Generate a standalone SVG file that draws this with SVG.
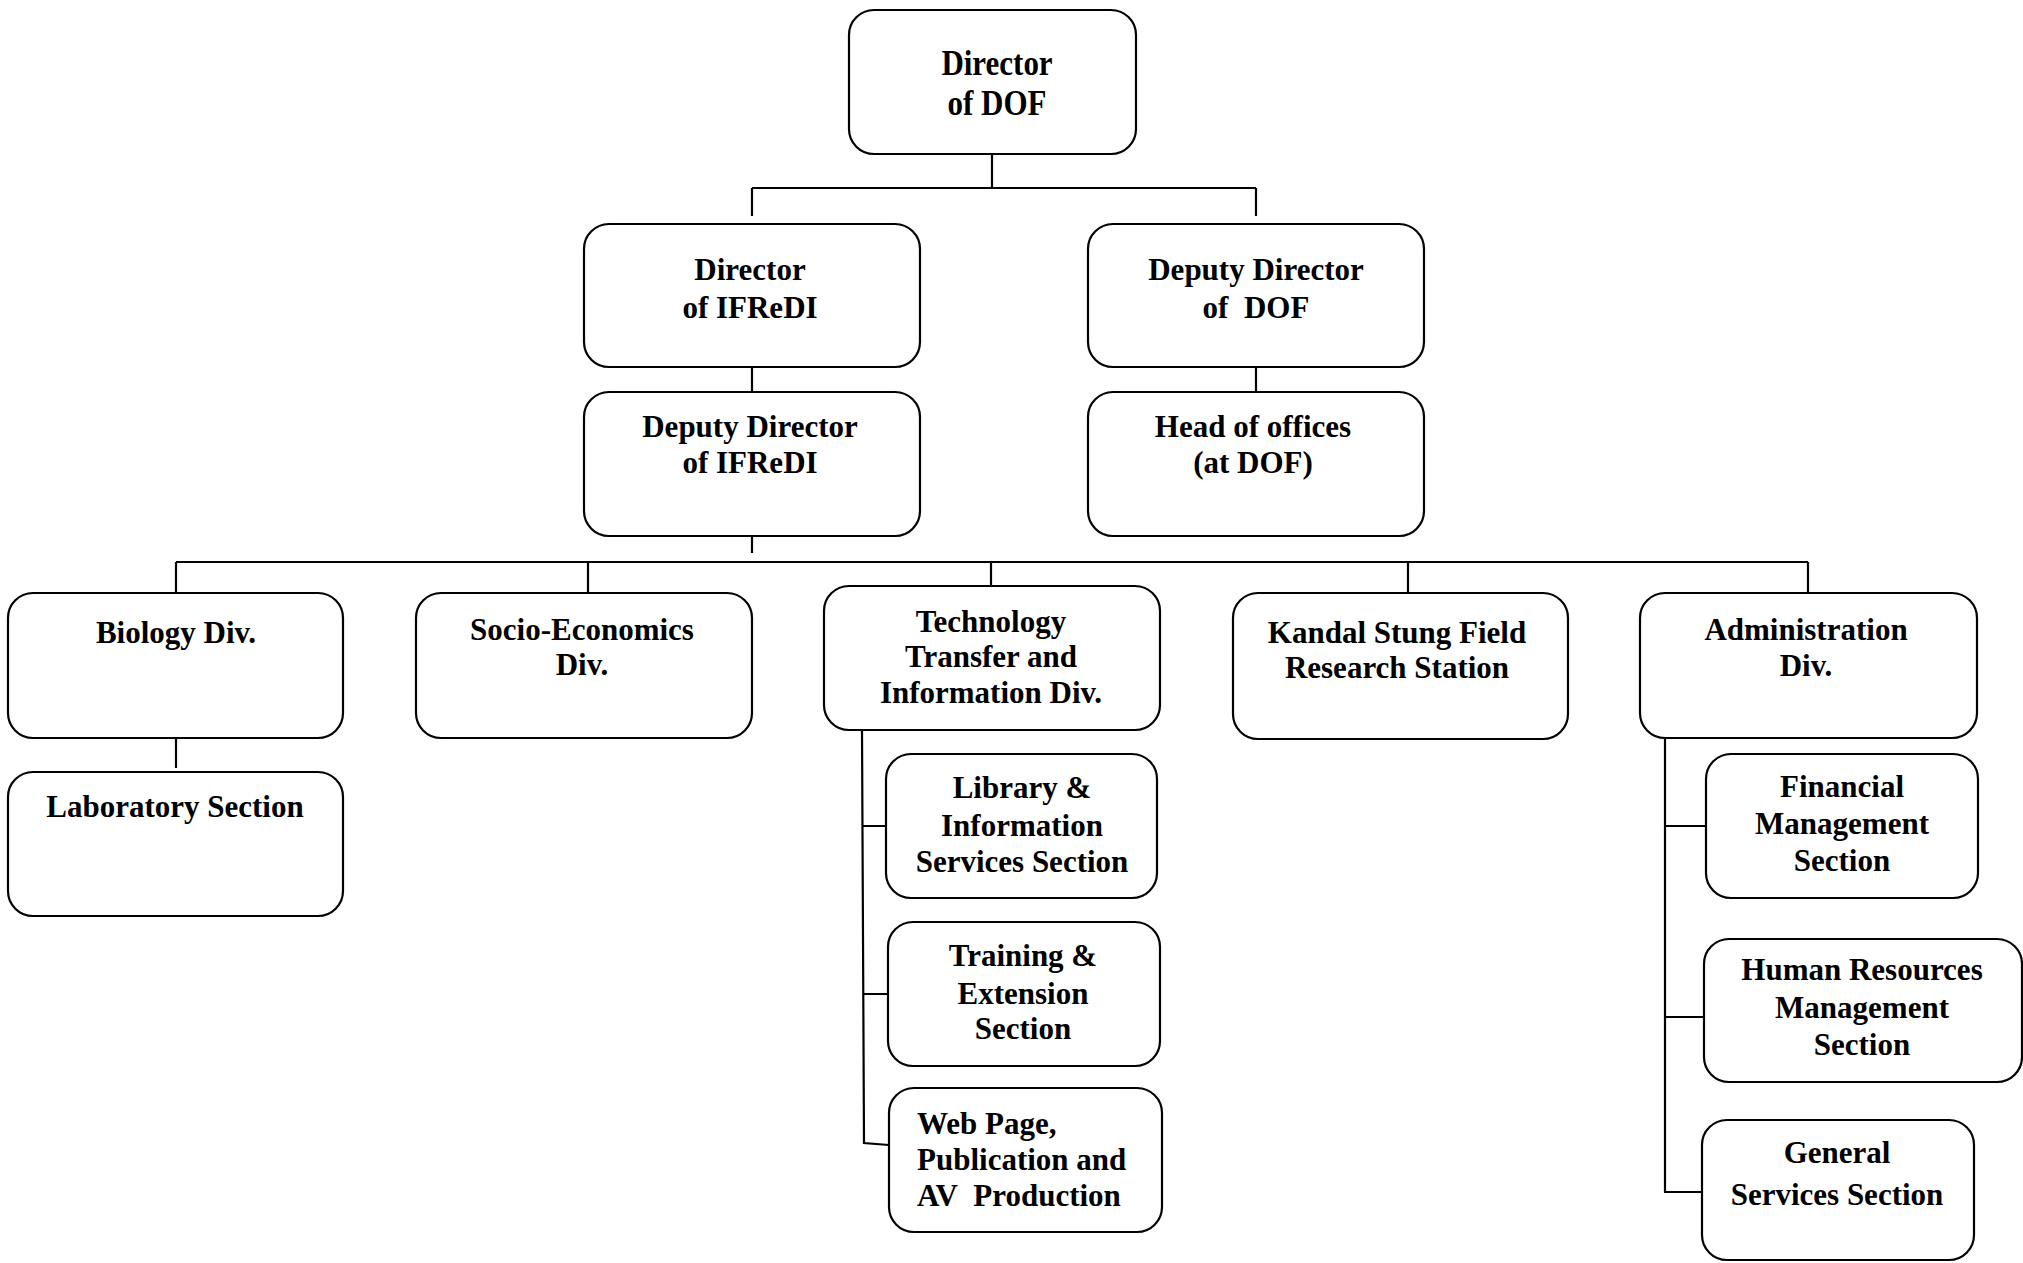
<svg xmlns="http://www.w3.org/2000/svg" width="2023" height="1263" viewBox="0 0 2023 1263">
<style>
.box{fill:#fff;stroke:#000;stroke-width:2.2}
.ln{stroke:#000;stroke-width:2.2;fill:none}
text{font-family:"Liberation Serif","Times New Roman",serif;font-weight:bold;font-size:31px;fill:#000;text-anchor:middle}
.l{text-anchor:start}
</style>
<rect width="2023" height="1263" fill="#fff"/>
<g id="connectors">
<path class="ln" d="M992 154V188M752 188H1256M752 188V216M1256 188V216"/>
<path class="ln" d="M752 363V394M1256 363V394M752 537V553"/>
<path class="ln" d="M176 562H1808M176 562V593M588 562V593M991 562V586M1408 562V593M1808 562V593"/>
<path class="ln" d="M176 738V768"/>
<path class="ln" d="M862 730L864 1143L889 1145M862 826H886M863 994H888"/>
<path class="ln" d="M1665 738V1192M1665 826H1708M1664 1017H1704M1664 1192H1704"/>
</g>
<g id="n-director-dof"><rect class="box" x="849" y="10" width="287" height="144" rx="25"/>
<text transform="translate(997,75) scale(1,1.17)">Director</text><text transform="translate(997,115) scale(1,1.17)">of DOF</text></g>
<g id="n-director-ifredi"><rect class="box" x="584" y="224" width="336" height="143" rx="25"/>
<text x="750" y="280">Director</text><text x="750" y="318">of IFReDI</text></g>
<g id="n-deputy-dof"><rect class="box" x="1088" y="224" width="336" height="143" rx="25"/>
<text x="1256" y="280">Deputy Director</text><text x="1256" y="318">of&#160; DOF</text></g>
<g id="n-deputy-ifredi"><rect class="box" x="584" y="392" width="336" height="144" rx="25"/>
<text x="750" y="437">Deputy Director</text><text x="750" y="473">of IFReDI</text></g>
<g id="n-head-offices"><rect class="box" x="1088" y="392" width="336" height="144" rx="25"/>
<text x="1253" y="437">Head of offices</text><text x="1253" y="473">(at DOF)</text></g>
<g id="n-biology"><rect class="box" x="8" y="593" width="335" height="145" rx="25"/>
<text x="176" y="643">Biology Div.</text></g>
<g id="n-lab"><rect class="box" x="8" y="772" width="335" height="144" rx="25"/>
<text x="175" y="817">Laboratory Section</text></g>
<g id="n-socio"><rect class="box" x="416" y="593" width="336" height="145" rx="25"/>
<text x="582" y="640">Socio-Economics</text><text x="582" y="675">Div.</text></g>
<g id="n-tech"><rect class="box" x="824" y="586" width="336" height="144" rx="25"/>
<text x="991" y="632">Technology</text><text x="991" y="667">Transfer and</text><text x="991" y="703">Information Div.</text></g>
<g id="n-kandal"><rect class="box" x="1233" y="593" width="335" height="146" rx="25"/>
<text x="1397" y="643">Kandal Stung Field</text><text x="1397" y="678">Research Station</text></g>
<g id="n-admin"><rect class="box" x="1640" y="593" width="337" height="145" rx="25"/>
<text x="1806" y="640">Administration</text><text x="1806" y="676">Div.</text></g>
<g id="n-library"><rect class="box" x="886" y="754" width="271" height="144" rx="25"/>
<text x="1022" y="798">Library &amp;</text><text x="1022" y="836">Information</text><text x="1022" y="872">Services Section</text></g>
<g id="n-training"><rect class="box" x="888" y="922" width="272" height="144" rx="25"/>
<text x="1023" y="966">Training &amp;</text><text x="1023" y="1004">Extension</text><text x="1023" y="1039">Section</text></g>
<g id="n-web"><rect class="box" x="889" y="1088" width="273" height="144" rx="25"/>
<text class="l" x="917" y="1134">Web Page,</text><text class="l" x="917" y="1170">Publication and</text><text class="l" x="917" y="1206">AV&#160; Production</text></g>
<g id="n-financial"><rect class="box" x="1706" y="754" width="272" height="144" rx="25"/>
<text x="1842" y="797">Financial</text><text x="1842" y="834">Management</text><text x="1842" y="871">Section</text></g>
<g id="n-hr"><rect class="box" x="1704" y="939" width="318" height="143" rx="25"/>
<text x="1862" y="980">Human Resources</text><text x="1862" y="1018">Management</text><text x="1862" y="1055">Section</text></g>
<g id="n-general"><rect class="box" x="1702" y="1120" width="272" height="140" rx="25"/>
<text x="1837" y="1163">General</text><text x="1837" y="1205">Services Section</text></g>
</svg>
